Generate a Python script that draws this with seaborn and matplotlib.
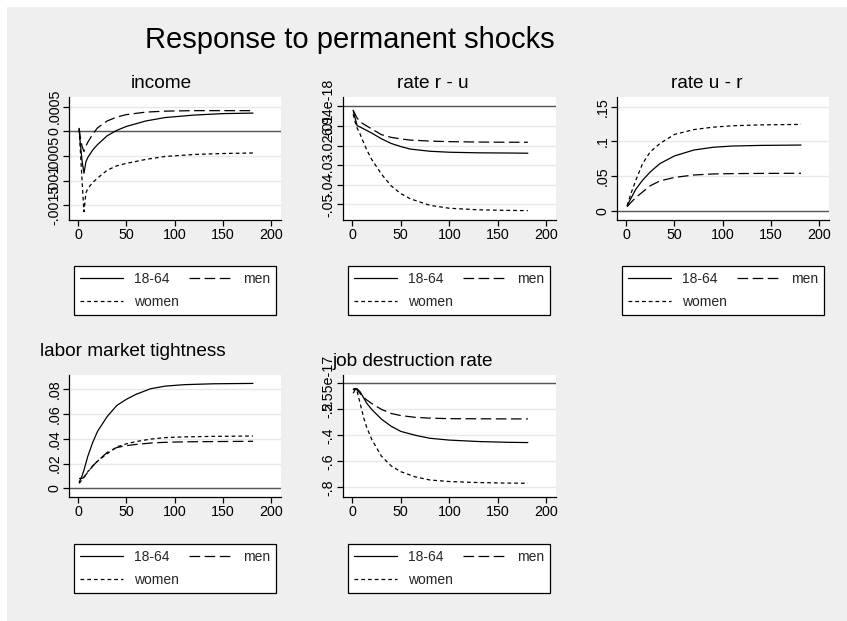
import matplotlib
matplotlib.use("Agg")
import matplotlib.pyplot as plt
from matplotlib.patches import Rectangle
import pandas as pd
import seaborn as sns

W, H = 847, 621

groups = ["18-64", "men", "women"]

# income
income_t = [1, 2, 4, 6, 8, 10, 15, 20, 30, 40, 50, 70, 90, 120, 150, 181]
income_all = [0.00006, -0.00020, -0.00060, -0.00085, -0.00062, -0.00053, -0.00038, -0.00027,
              -0.00009, 0.00002, 0.00010, 0.00021, 0.00028, 0.00033, 0.00036, 0.00037]
income_men = [0.00006, -0.00010, -0.00030, -0.00041, -0.00030, -0.00022, -0.00006, 0.00007,
              0.00021, 0.00029, 0.00034, 0.00039, 0.00041, 0.00042, 0.00042, 0.00042]
income_women = [0.00004, -0.00030, -0.00100, -0.00163, -0.00125, -0.00116, -0.00104, -0.00095,
                -0.00079, -0.00070, -0.00065, -0.00057, -0.00051, -0.00047, -0.00045, -0.00044]

# rate r - u
ru_t = [1, 3, 5, 8, 10, 15, 20, 30, 40, 50, 60, 80, 100, 130, 160, 181]
ru_all = [-0.0020, -0.0060, -0.0098, -0.0105, -0.0110, -0.0123, -0.0136, -0.0165,
          -0.0189, -0.0205, -0.0218, -0.0229, -0.0234, -0.0237, -0.0238, -0.0239]
ru_men = [-0.0020, -0.0040, -0.0060, -0.0075, -0.0085, -0.0100, -0.0115, -0.0144,
          -0.0158, -0.0166, -0.0172, -0.0177, -0.0180, -0.0182, -0.0183, -0.0183]
ru_women = [-0.0040, -0.0080, -0.0110, -0.0140, -0.0165, -0.0222, -0.0270, -0.0345,
            -0.0405, -0.0445, -0.0472, -0.0505, -0.0520, -0.0528, -0.0531, -0.0532]

# rate u - r
ur_t = [1, 5, 10, 17, 25, 35, 50, 70, 90, 110, 140, 181]
ur_all = [0.0072, 0.018, 0.031, 0.044, 0.056, 0.068, 0.079, 0.0875, 0.0915, 0.0933, 0.0942, 0.0947]
ur_men = [0.0058, 0.012, 0.019, 0.027, 0.036, 0.043, 0.048, 0.0515, 0.053, 0.0535, 0.0538, 0.054]
ur_women = [0.0072, 0.025, 0.044, 0.068, 0.085, 0.097, 0.110, 0.117, 0.1205, 0.1225, 0.1238, 0.1245]

# labor market tightness
lmt_t = [1, 4, 6, 10, 15, 20, 30, 40, 50, 60, 75, 90, 110, 140, 181]
lmt_all = [0.005, 0.010, 0.0148, 0.026, 0.037, 0.046, 0.058, 0.067, 0.072, 0.076,
           0.0805, 0.0826, 0.0838, 0.0845, 0.0848]
lmt_men = [0.008, 0.008, 0.009, 0.013, 0.018, 0.022, 0.029, 0.033, 0.0345, 0.0355,
           0.0366, 0.0372, 0.0376, 0.0378, 0.038]
lmt_women = [0.004, 0.007, 0.009, 0.0135, 0.018, 0.022, 0.028, 0.0335, 0.036, 0.0378,
             0.0398, 0.041, 0.0416, 0.042, 0.0423]

# job destruction rate
jd_t = [1, 3, 5, 8, 12, 15, 20, 30, 40, 50, 65, 80, 100, 130, 160, 181]
jd_all = [-0.045, -0.040, -0.042, -0.064, -0.115, -0.154, -0.20, -0.275, -0.33, -0.37,
          -0.40, -0.423, -0.437, -0.448, -0.454, -0.456]
jd_men = [-0.051, -0.045, -0.050, -0.077, -0.11, -0.128, -0.155, -0.20, -0.232, -0.248,
          -0.262, -0.268, -0.272, -0.273, -0.274, -0.274]
jd_women = [-0.077, -0.050, -0.060, -0.15, -0.27, -0.34, -0.43, -0.56, -0.635, -0.68,
            -0.72, -0.744, -0.756, -0.764, -0.768, -0.769]

# y axis ticks and their labels per panel
income_ticks = [-0.0015, -0.001, -0.0005, 0, 0.0005]
income_labels = ["-.0015", "-.001", "-.0005", "0", ".0005"]
ru_ticks = [-0.05, -0.04, -0.03, -0.02, -0.01, 0]
ru_labels = ["-.05", "-.04", "-.03", "-.02", "-.01", "6.94e-18"]
ur_ticks = [0, 0.05, 0.1, 0.15]
ur_labels = ["0", ".05", ".1", ".15"]
lmt_ticks = [0, 0.02, 0.04, 0.06, 0.08]
lmt_labels = ["0", ".02", ".04", ".06", ".08"]
jd_ticks = [-0.8, -0.6, -0.4, -0.2, 0]
jd_labels = ["-.8", "-.6", "-.4", "-.2", "5.55e-17"]
x_ticks = [0, 50, 100, 150, 200]

sns.set_theme(style="white")
plt.rcParams["font.family"] = ["Liberation Sans", "DejaVu Sans"]

fig = plt.figure(figsize=(W / 100, H / 100), dpi=100)
fig.patch.set_facecolor("white")
fig.patches.append(Rectangle((7 / W, 0), 1 - 7 / W, 1 - 7 / H, transform=fig.transFigure,
                             facecolor="#efefef", edgecolor="none", zorder=-10))


def fx(px):
    return px / W


def fy(py):
    return 1 - py / H


styles = {
    "18-64": "-",
    "men": (0, (8.5, 3.6)),
    "women": (0, (3.0, 2.4)),
}

panels = [
    dict(title="income", t=income_t, vals=[income_all, income_men, income_women],
         box=(69, 97, 281, 220), ylim=(-0.0018, 0.000697), ticks=income_ticks,
         labels=income_labels, title_xy=(161, 83.5), title_ha="center",
         legend=(74, 266, 276)),
    dict(title="rate r - u", t=ru_t, vals=[ru_all, ru_men, ru_women],
         box=(343, 97, 556, 220), ylim=(-0.058, 0.0048), ticks=ru_ticks,
         labels=ru_labels, title_xy=(433, 83.5), title_ha="center",
         legend=(348, 266, 550)),
    dict(title="rate u - r", t=ur_t, vals=[ur_all, ur_men, ur_women],
         box=(617, 97, 829, 220), ylim=(-0.0134, 0.164), ticks=ur_ticks,
         labels=ur_labels, title_xy=(707, 83.5), title_ha="center",
         legend=(622, 266, 824)),
    dict(title="labor market tightness", t=lmt_t, vals=[lmt_all, lmt_men, lmt_women],
         box=(69, 375, 281, 497), ylim=(-0.007, 0.0916), ticks=lmt_ticks,
         labels=lmt_labels, title_xy=(40, 352), title_ha="left",
         legend=(74, 544, 276)),
    dict(title="job destruction rate", t=jd_t, vals=[jd_all, jd_men, jd_women],
         box=(343, 375, 556, 497), ylim=(-0.875, 0.064), ticks=jd_ticks,
         labels=jd_labels, title_xy=(332, 361), title_ha="left",
         legend=(348, 544, 550)),
]

for p in panels:
    x0, y0, x1, y1 = p["box"]
    ax = fig.add_axes([fx(x0), fy(y1), (x1 - x0) / W, (y1 - y0) / H])
    ax.set_facecolor("white")

    frames = []
    for g, v in zip(groups, p["vals"]):
        frames.append(pd.DataFrame({"t": p["t"], "value": v, "group": g}))
    df = pd.concat(frames, ignore_index=True)

    handles = {}
    for g in groups:
        sub = df[df["group"] == g]
        sns.lineplot(data=sub, x="t", y="value", ax=ax, color="black", lw=0.9,
                     linestyle=styles[g], errorbar=None, legend=False)
        handles[g] = ax.get_lines()[-1]

    ax.axhline(0, color="#555555", lw=1.0, zorder=1)

    ax.set_xlim(-9.5, 210)
    ax.set_ylim(*p["ylim"])
    ax.set_xticks(x_ticks)
    ax.set_xticklabels([str(v) for v in x_ticks])
    ax.set_yticks(p["ticks"])
    ax.set_yticklabels(p["labels"], rotation=90, va="center")
    ax.set_xlabel("")
    ax.set_ylabel("")

    ax.yaxis.grid(True, color="#e8e8e8", lw=1.0)
    ax.xaxis.grid(False)
    ax.set_axisbelow(True)

    for side in ["top", "right"]:
        ax.spines[side].set_visible(False)
    for side in ["left", "bottom"]:
        ax.spines[side].set_color("black")
        ax.spines[side].set_linewidth(0.9)
    ax.tick_params(axis="both", which="major", direction="out", length=4, width=0.9,
                   color="black", labelsize=10.3, labelcolor="black", pad=1.5,
                   left=True, bottom=True)

    fig.text(fx(p["title_xy"][0]), fy(p["title_xy"][1]), p["title"], ha=p["title_ha"],
             va="center", fontsize=13.7, color="black")

    lx0, ly0, lx1 = p["legend"]
    leg = ax.legend([handles["18-64"], handles["women"], handles["men"]],
                    ["18-64", "women", "men"], ncol=2, mode="expand",
                    loc="upper left",
                    bbox_to_anchor=(fx(lx0), fy(ly0), (lx1 - lx0) / W, 0),
                    bbox_transform=fig.transFigure, fontsize=10, frameon=True,
                    fancybox=False, shadow=False, framealpha=1, edgecolor="black",
                    handlelength=3.1, handletextpad=0.75, borderpad=0.45,
                    labelspacing=0.62, columnspacing=1.2, borderaxespad=0)
    leg.get_frame().set_linewidth(0.9)
    leg.get_frame().set_facecolor("white")

fig.text(fx(350), fy(40), "Response to permanent shocks", ha="center", va="center",
         fontsize=21, color="black")

fig.savefig("out.png", dpi=100, facecolor=fig.get_facecolor())
